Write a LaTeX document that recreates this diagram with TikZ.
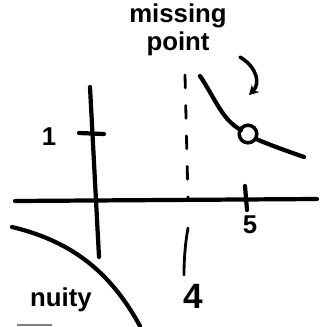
\documentclass[tikz,border=0pt]{standalone}
\usepackage{fontspec}
\setmainfont{Liberation Sans}
\usetikzlibrary{arrows.meta}

\begin{document}
\begin{tikzpicture}[
    x=0.03cm, y=-0.03cm,
    >=Stealth,
    pen/.style={line width=3.6pt, line cap=round, line join=round},
    asym/.style={pen, line width=2.4pt, dash pattern=on 11pt off 15pt},
    hand/.style={font=\fontsize{22}{24}\selectfont\bfseries, inner sep=0pt},
    note/.style={pen, line width=3pt, -{Stealth[length=8pt, width=9pt]}}
  ]
    \useasboundingbox (0,0) rectangle (328,326);
    \clip (0,0) rectangle (328,326);

    % axes
    \draw[pen] (15,201) -- (317,199);
    \draw[pen] (90,87) -- (99,257);
    \draw[pen] (79,133) -- (104,134);
    \draw[pen] (245,186) -- (247,210);

    % vertical asymptote at x = 4
    \draw[asym] (185,75) -- (188,200);
    \draw[pen, line width=2.4pt] (188,228) .. controls (185,245) and (184,260) .. (184,275);

    % branches of the graph
    \draw[pen] (12,227) .. controls (75,242) and (112,275) .. (140,326);
    \draw[pen] (200,76) .. controls (215,98) and (222,120) .. (241,130);
    \draw[pen] (256,139) .. controls (275,147) and (290,152) .. (304,157);
    \node[draw, pen, line width=3pt, circle, minimum size=15pt, inner sep=0pt] (hole) at (248,134) {};

    % labels
    \node[hand] (one) at (49,137) {1};
    \node[hand] (five) at (250,225) {5};
    \node[hand, font=\fontsize{30}{32}\selectfont\bfseries] (four) at (193,296) {4};
    \node[hand, align=center] (missing) at (178,30) {missing\\point};
    \node[hand, anchor=east] (cont) at (92,300) {nuity};

    \draw[note] (240,57) .. controls (258,68) and (260,84) .. (249,95);
    \draw[gray, line width=1pt] (17,325) -- (52,325);
\end{tikzpicture}
\end{document}
